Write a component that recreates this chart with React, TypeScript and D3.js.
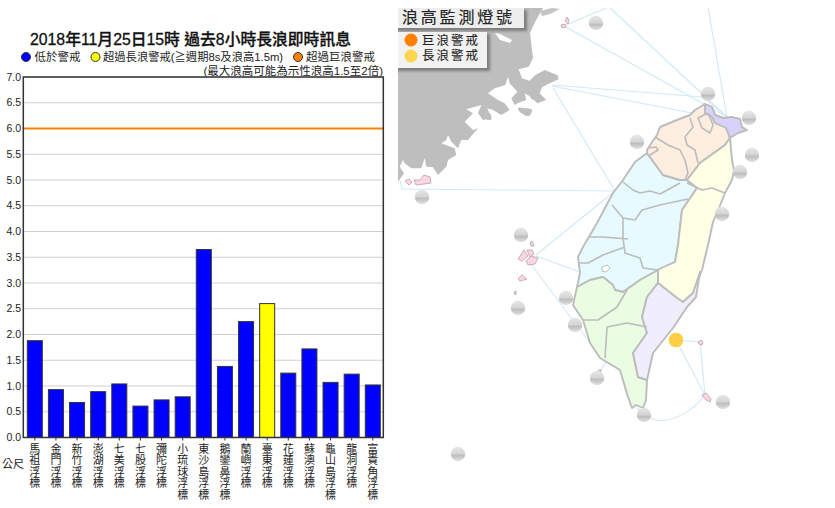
import React from "react";
import * as d3 from "d3";

const stations = ["馬祖浮標","金門浮標","新竹浮標","澎湖浮標","七美浮標","七股浮標","彌陀浮標","小琉球浮標","東沙島浮標","鵝鑾鼻浮標","蘭嶼浮標","臺東浮標","花蓮浮標","蘇澳浮標","龜山島浮標","龍洞浮標","富貴角浮標"];
const waveHeights = [1.88,0.93,0.68,0.89,1.04,0.61,0.73,0.79,3.65,1.38,2.25,2.6,1.25,1.72,1.07,1.23,1.02];
const yTicks = [0,0.5,1,1.5,2,2.5,3,3.5,4,4.5,5,5.5,6,6.5,7];
const hugeWaveLevel = 6;
const longWaveStation = "臺東浮標";

type P = [number, number];
// Coast traced at 3x, offset from the map's corner region
const chinaCoast: P[] = [[0,-156],[435,-156],[411,-114],[396,-81],[405,-6],[392,20],[362,28],[372,55],[395,62],[412,45],[440,30],[478,45],[482,58],[450,72],[432,82],[425,100],[445,120],[418,130],[398,110],[380,100],[385,120],[362,128],[350,135],[340,115],[358,95],[335,70],[330,50],[322,75],[290,85],[270,100],[300,120],[320,130],[335,150],[310,165],[285,150],[268,145],[280,175],[255,180],[240,160],[250,135],[205,148],[225,160],[200,185],[225,210],[240,205],[210,240],[190,240],[180,265],[160,245],[150,225],[145,240],[130,250],[170,265],[175,285],[150,300],[145,320],[120,345],[105,322],[85,320],[80,295],[70,325],[40,325],[20,310],[15,300],[5,320],[18,340],[0,365]];
const chinaIslets: P[][] = [
  [[360,145],[385,145],[402,150],[392,168],[365,155]],
  [[395,95],[415,90],[420,115],[402,118]],
  [[263,165],[275,160],[280,178],[268,180]],
];
const chinaBay: P[] = [[495,33],[500,34],[512,40],[510,43],[500,40]];
const grayIslets: P[] = [[540,11],[552,8],[560,9],[550,14],[542,16]];
const north: P[] = [[647,150],[652,142],[657,135],[660,127],[677,120],[690,115],[695,110],[705,104],[712,107],[715,115],[723,118],[730,138],[725,145],[700,163],[687,180],[680,180],[663,175],[647,153]];
const northeast: P[] = [[705,104],[712,107],[715,115],[723,118],[732,117],[740,119],[742,127],[747,130],[738,133],[730,138],[726,128],[715,123],[712,117],[705,113]];
const east: P[] = [[730,138],[732,160],[734,170],[732,180],[725,193],[719,208],[713,222],[708,245],[702,270],[693,293],[683,302],[677,298],[658,283],[657,270],[675,262],[678,245],[682,210],[697,188],[687,180],[700,163],[725,145]];
const central: P[] = [[647,153],[663,175],[680,180],[687,180],[697,188],[682,210],[678,245],[675,262],[658,270],[640,280],[623,292],[615,290],[613,285],[603,277],[590,280],[577,287],[580,273],[578,257],[583,247],[597,223],[613,193],[623,180],[635,162]];
const south: P[] = [[577,287],[590,280],[603,277],[613,285],[615,290],[623,292],[640,280],[658,270],[658,283],[647,297],[642,317],[647,333],[633,353],[638,377],[647,380],[646,400],[643,408],[636,405],[632,408],[628,397],[620,370],[600,358],[590,343],[583,320],[573,305]];
const southeast: P[] = [[658,283],[677,298],[683,302],[693,293],[700,272],[696,297],[687,307],[673,328],[653,353],[647,380],[638,377],[633,353],[647,333],[642,317],[647,297]];
const borders: P[][] = [
  [[623,182],[633,190],[640,193],[650,191],[660,194],[680,183]],
  [[612,205],[623,218],[635,220],[642,210],[660,205],[688,199]],
  [[623,218],[623,238]],
  [[590,237],[603,237],[628,239]],
  [[623,238],[625,253],[640,258],[643,268],[658,270]],
  [[578,263],[588,263],[603,255],[625,247]],
  [[655,137],[668,145],[680,150],[685,160],[688,173],[685,180]],
  [[690,118],[693,127],[685,137],[687,145],[695,150],[698,163]],
  [[708,113],[698,118],[702,128],[710,133],[713,125],[708,113]],
  [[648,148],[656,147],[658,150],[650,155]],
  [[687,183],[702,190],[712,188],[725,193]],
  [[583,320],[598,320],[617,307],[627,290]],
  [[607,327],[627,323],[647,327]],
  [[607,327],[605,358]],
];
const reservoir: P[] = [[602,267],[607,265],[610,268],[606,272],[602,271]];
const islands: P[][] = [
  [[405,181],[409,179],[412,182],[409,185]],
  [[414,180],[420,180],[424,175],[430,177],[431,183],[424,184],[416,185]],
  [[561,25],[565,24],[566,27],[562,28]],
  [[565,21],[567,17],[569,20],[568,24]],
  [[524,250],[528,256],[522,261],[518,259]],
  [[527,250],[532,250],[534,254],[530,257]],
  [[526,261],[531,256],[538,258],[535,264],[528,265]],
  [[530,243],[532,241],[534,246],[531,246]],
  [[518,279],[522,275],[527,279],[520,281]],
  [[514,292],[516,291],[516,294],[515,295]],
  [[598,371],[600,369],[601,372],[599,373]],
  [[698,342],[701,340],[703,342],[702,345],[699,344]],
  [[702,395],[706,393],[711,399],[710,402],[705,399]],
];
const seaLines: P[][] = [
  [[566,25],[609,7],[727,117]],
  [[566,27],[727,117]],
  [[552,85],[703,97],[727,117]],
  [[552,86],[692,113]],
  [[708,7],[727,117]],
  [[553,88],[615,191]],
  [[400,180],[402,189],[615,191]],
  [[615,191],[536,255]],
  [[536,256],[580,272]],
  [[530,263],[590,343]],
  [[600,372],[607,360]],
  [[676,340],[700,342],[705,395]],
  [[676,340],[705,395]],
];
const arcLine: P[] = [[705,395],[690,412],[665,422],[650,420],[637,408]];
const buoys: P[] = [[596,23],[708,94],[637,142],[749,118],[752,155],[740,172],[722,214],[521,235],[566,298],[518,308],[575,325],[597,378],[644,415],[723,402],[458,454],[422,197]];
const activeBuoy: P = [676,340];

const sans = "'Liberation Sans','Noto Sans CJK TC',sans-serif";
const Y_TOP = 77, Y_BOTTOM = 437.5, X_LEFT = 23.3, X_RIGHT = 383.3;

export default function App() {
  const y = d3.scaleLinear().domain([0,7]).range([Y_BOTTOM,Y_TOP]);
  const x = d3.scaleBand<string>().domain(stations).range([X_LEFT,384.3]).paddingInner(0.29).paddingOuter(0.19);
  const px = d3.scaleIdentity();
  const line = d3.line<P>().x(d=>px(d[0])).y(d=>px(d[1]));
  const closed = (p:P[]) => line(p)+"Z";
  const smooth = d3.line<P>().x(d=>px(d[0])).y(d=>px(d[1])).curve(d3.curveBasis);
  const cx = d3.scaleLinear().domain([0,3]).range([398,399]);
  const cy = d3.scaleLinear().domain([0,3]).range([60,61]);
  const coast = d3.line<P>().x(d=>cx(d[0])).y(d=>cy(d[1])).curve(d3.curveCatmullRomClosed.alpha(0.5));
  const coastHard = d3.line<P>().x(d=>cx(d[0])).y(d=>cy(d[1]));
  return (
    <svg width={835} height={508} style={{position:"absolute",left:0,top:0,background:"#fff"}} fontFamily={sans}>
      <defs>
        <linearGradient id="ball" x1="0" y1="0" x2="0" y2="1">
          <stop offset="0" stopColor="#e6e6e6"/><stop offset="0.5" stopColor="#d4d4d4"/>
          <stop offset="0.58" stopColor="#bcbcbc"/><stop offset="1" stopColor="#e2e2e2"/>
        </linearGradient>
        <filter id="soft"><feGaussianBlur stdDeviation="0.45"/></filter>
        <filter id="shadow" x="-10%" y="-20%" width="125%" height="150%"><feGaussianBlur stdDeviation="1.5"/></filter>
        <clipPath id="mapClip"><rect x={398} y={8} width={437} height={500}/></clipPath>
      </defs>

      <g clipPath="url(#mapClip)">
        <g filter="url(#soft)">
          <path d={coastHard(chinaCoast)+"Z"} fill="#bebebe"/>
          {chinaIslets.map((s,i)=><path key={i} d={coast(s)!} fill="#bebebe"/>)}
          <path d={closed(chinaBay)} fill="#fff"/>
          <path d={closed(grayIslets)} fill="#c4c4c4"/>
          <g fill="none" stroke="#cfe9f6" strokeWidth={1.1}>
            {seaLines.map((s,i)=><path key={i} d={line(s)!}/>)}
            <path d={smooth(arcLine)!}/>
          </g>
          <g stroke="#bcbcbc" strokeWidth={1.9} strokeLinejoin="round">
            <path d={closed(central)} fill="#e6faff"/>
            <path d={closed(north)} fill="#fdeee0"/>
            <path d={closed(east)} fill="#ffffe6"/>
            <path d={closed(south)} fill="#eafde2"/>
            <path d={closed(southeast)} fill="#f0edfd"/>
            <path d={closed(northeast)} fill="#d8d2fb"/>
            {borders.map((b,i)=><path key={i} d={line(b)!} fill="none" strokeWidth={1.6}/>)}
            <path d={closed(reservoir)} fill="#fff" strokeWidth={1}/>
          </g>
          <g fill="#fbd6e2" stroke="#bfa7af" strokeWidth={0.9}>
            {islands.map((s,i)=><path key={i} d={closed(s)}/>)}
          </g>
          {buoys.map((b,i)=><circle key={i} cx={b[0]} cy={b[1]} r={7.2} fill="url(#ball)"/>)}
          <circle cx={activeBuoy[0]} cy={activeBuoy[1]} r={7.3} fill="#fccf45"/>
        </g>
        <rect x={396} y={10} width={131} height={21} fill="#666" opacity={0.75} filter="url(#shadow)"/>
        <rect x={396} y={8} width={128} height={20} fill="#eeeeee"/>
        <rect x={396} y={34} width={94} height={37} fill="#666" opacity={0.75} filter="url(#shadow)"/>
        <rect x={396} y={32} width={91} height={36} fill="#f2f2f2"/>
        <text x={402} y={23} fontSize={16} letterSpacing={2.8} fill="#222" stroke="#222" strokeWidth={0.15}>浪高監測燈號</text>
        <circle cx={411} cy={40} r={6.5} fill="#ff8000"/>
        <circle cx={411} cy={56} r={6.5} fill="#fdd54f"/>
        <text x={422} y={45} fontSize={12.5} letterSpacing={2} fill="#222" stroke="#222" strokeWidth={0.1}>巨浪警戒</text>
        <text x={422} y={60} fontSize={12.5} letterSpacing={2} fill="#222" stroke="#222" strokeWidth={0.1}>長浪警戒</text>
      </g>

      <text x={30} y={45} fontSize={15.8} fontWeight={500} fill="#111" stroke="#111" strokeWidth={0.3}>2018年11月25日15時 過去8小時長浪即時訊息</text>
      <g fontSize={11.5} fill="#222">
        <circle cx={26} cy={57} r={4.5} fill="#0000ff" stroke="#333"/>
        <text x={34.5} y={61}>低於警戒</text>
        <circle cx={95.5} cy={57} r={4.5} fill="#ffff00" stroke="#333"/>
        <text x={103} y={61} fontSize={11.3}>超過長浪警戒(≧週期8s及浪高1.5m)</text>
        <circle cx={298} cy={57} r={4.5} fill="#ff8000" stroke="#333"/>
        <text x={306} y={61}>超過巨浪警戒</text>
        <text x={383} y={75} textAnchor="end">(最大浪高可能為示性浪高1.5至2倍)</text>
      </g>

      {yTicks.map(t=>(
        <g key={t}>
          <line x1={X_LEFT} x2={X_RIGHT} y1={y(t)} y2={y(t)} stroke="#cfcfcf" strokeWidth={1}/>
          <text x={21} y={y(t)+3.5} textAnchor="end" fontSize={10.5} fill="#222">{t.toFixed(1)}</text>
        </g>
      ))}
      <line x1={X_LEFT} x2={X_RIGHT} y1={y(hugeWaveLevel)} y2={y(hugeWaveLevel)} stroke="#ff8000" strokeWidth={2}/>
      {stations.map((s,i)=>(
        <rect key={s} x={x(s)} y={y(waveHeights[i])} width={x.bandwidth()} height={Y_BOTTOM-y(waveHeights[i])}
          fill={s===longWaveStation?"#ffff00":"#0000ff"} stroke="#333" strokeWidth={1}/>
      ))}
      <rect x={X_LEFT} y={Y_TOP} width={X_RIGHT-X_LEFT} height={Y_BOTTOM-Y_TOP} fill="none" stroke="#333" strokeWidth={1.5}/>
      {stations.map(s=>(
        <g key={s}>
          <line x1={x(s)!+x.bandwidth()/2} x2={x(s)!+x.bandwidth()/2} y1={Y_BOTTOM} y2={Y_BOTTOM+3} stroke="#333"/>
          <text textAnchor="middle" fontSize={11} fill="#222">
            {Array.from(s).map((c,j)=>(
              <tspan key={j} x={x(s)!+x.bandwidth()/2} y={452.5+j*11.5}>{c}</tspan>
            ))}
          </text>
        </g>
      ))}
      <text x={2} y={468} fontSize={11} fill="#222">公尺</text>
    </svg>
  );
}
